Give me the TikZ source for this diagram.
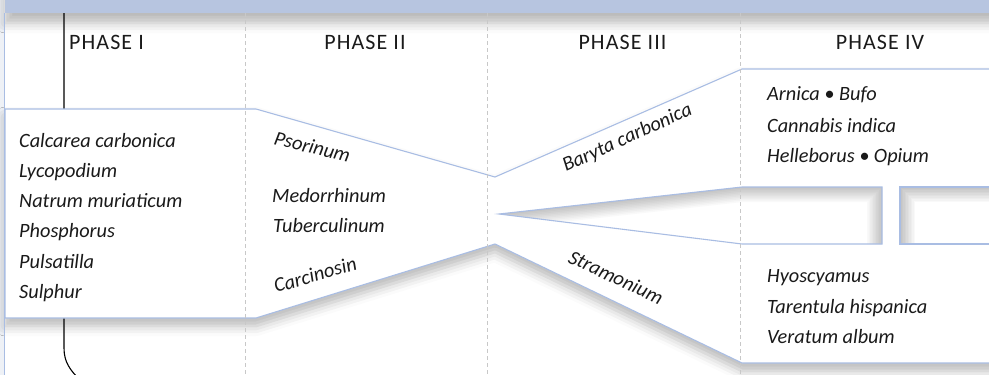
\documentclass[tikz,border=0pt]{standalone}
\usepackage{fontspec}
\setmainfont{Carlito}
\usetikzlibrary{shadows.blur}
\definecolor{bandblue}{HTML}{B7C5E0}
\definecolor{edgeblue}{HTML}{A9BDE3}
\definecolor{dashgrey}{HTML}{C8C8C8}
\definecolor{stripgrey}{HTML}{EEF1F6}
\definecolor{inkblack}{HTML}{1A1A1A}

\begin{document}
\begin{tikzpicture}[x=1pt, y=-1pt,
    phase/.style={font=\fontsize{22}{24}\selectfont\addfontfeature{LetterSpace=5}, text=inkblack, inner sep=0pt, anchor=base},
    remedy/.style={font=\fontsize{20.3}{24}\selectfont\itshape, text=inkblack, inner sep=0pt, anchor=base west},
    outline/.style={draw=edgeblue, line width=1.1pt, fill=white},
    phaseline/.style={dashgrey, line width=0.9pt, dash pattern=on 4pt off 3pt},
    softshadow/.style={blur shadow={shadow xshift=0pt, shadow yshift=-#1, shadow blur radius=10pt, shadow opacity=28}}]
  \useasboundingbox (0,0) rectangle (989,375);
  \clip (0,0) rectangle (989,375);

  % left margin strip and header band
  \fill[stripgrey] (0,0) rectangle (4,375);
  \fill[bandblue, softshadow=10pt] (5,-20) rectangle (1010,13);

  % time axis behind the boxes
  \draw[black, line width=1.1pt] (64,13) -- (64,348) .. controls (64,362) and (70,370) .. (80,380);

  % the funnel
  \path[outline, softshadow=8pt] (5,109) -- (256,109) -- (495,177) coordinate (neckup)
    -- (742,69) -- (1010,69) -- (1010,363) -- (742,363) -- (495,244) coordinate (necklow)
    -- (256,318) -- (5,318) -- cycle;

  % wedge and second block, inset
  \fill[white] (499,214) -- (742,187) -- (882,187) -- (882,244) -- (742,244) -- cycle;
  \begin{scope}
    \clip (499,214) -- (742,187) -- (882,187) -- (882,244) -- (742,244) -- cycle;
    \foreach \w in {3,6,...,30}
      \draw[black, opacity=0.025, line width=\w pt] (499,214) -- (742,187) -- (882,187) -- (882,250);
  \end{scope}
  \draw[edgeblue, line width=1.1pt] (499,214) -- (742,187) -- (882,187) -- (882,244) -- (742,244) -- cycle;
  \fill[white] (900,187) rectangle (1010,244);
  \begin{scope}
    \clip (900,187) rectangle (1010,244);
    \foreach \w in {3,6,...,30}
      \draw[black, opacity=0.025, line width=\w pt] (900,250) -- (900,187) -- (1010,187);
  \end{scope}
  \draw[edgeblue, line width=1.1pt] (1010,187) -- (900,187) -- (900,244) -- (1010,244);

  % phase separators
  \foreach \x in {245,487,740}
    \draw[phaseline] (\x,13) -- (\x,375);
  \draw[edgeblue, line width=0.8pt] (4.5,13) -- (4.5,375);

  % phase titles
  \node[phase, anchor=base west] (phaseI) at (69,49.5) {PHASE I};
  \node[phase] (phaseII) at (365,49.5) {PHASE II};
  \node[phase] (phaseIII) at (622.5,49.5) {PHASE III};
  \node[phase] (phaseIV) at (880,49.5) {PHASE IV};

  % phase I
  \node[remedy] (calc) at (19,147) {Calcarea carbonica};
  \node[remedy] (lyco) at (19,177.3) {Lycopodium};
  \node[remedy] (natm) at (19,207.6) {Natrum muriaticum};
  \node[remedy] (phos) at (19,237.9) {Phosphorus};
  \node[remedy] (puls) at (19,268.2) {Pulsatilla};
  \node[remedy] (sulph) at (19,298.5) {Sulphur};

  % phase II
  \node[remedy, rotate=-14] (psor) at (273,144) {Psorinum};
  \node[remedy] (med) at (272,202) {Medorrhinum};
  \node[remedy] (tub) at (273,232) {Tuberculinum};
  \node[remedy, rotate=16] (carc) at (276,293) {Carcinosin};

  % phase III
  \node[remedy, rotate=24.5] (bar) at (566,172) {Baryta carbonica};
  \node[remedy, rotate=-25] (stram) at (567,262) {Stramonium};

  % phase IV
  \node[remedy] (arn) at (767,100) {Arnica • Bufo};
  \node[remedy] (cann) at (767,132) {Cannabis indica};
  \node[remedy] (hell) at (767,162) {Helleborus • Opium};
  \node[remedy] (hyos) at (767,282) {Hyoscyamus};
  \node[remedy] (tarent) at (767,313) {Tarentula hispanica};
  \node[remedy] (verat) at (767,343) {Veratum album};
\end{tikzpicture}
\end{document}
